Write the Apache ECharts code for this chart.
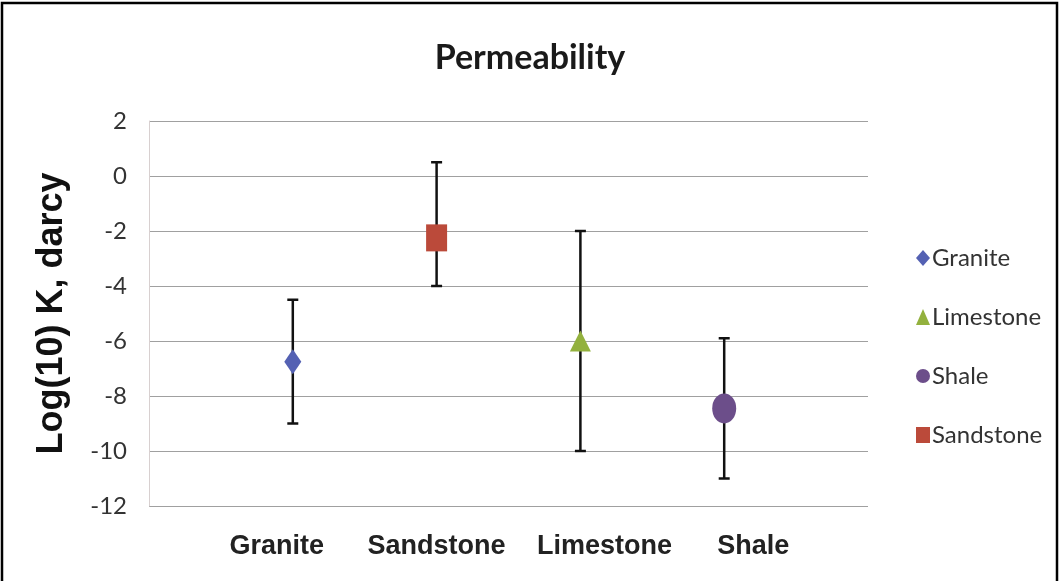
<!DOCTYPE html>
<html>
<head>
<meta charset="utf-8">
<script src="https://cdn.jsdelivr.net/npm/echarts@6/dist/echarts.min.js"></script>
<style>html,body{margin:0;padding:0;background:#fff;}#c{width:1060px;height:581px;}</style>
</head>
<body>
<div id="c"></div>
<script>
const categories = ['Granite', 'Sandstone', 'Limestone', 'Shale'];
const values = [-6.75, -2.25, -6.0, -8.45];
const lows = [-9, -4, -10, -11];
const highs = [-4.5, 0.5, -2, -5.9];
const legendOrder = ['Granite', 'Limestone', 'Shale', 'Sandstone'];
const yTicks = [2, 0, -2, -4, -6, -8, -10, -12];

const styles = {
  Granite:   { symbol: 'diamond',  size: [17, 25], color: '#5461b3' },
  Sandstone: { symbol: 'rect',     size: [21, 27], color: '#bb4a3a' },
  Limestone: { symbol: 'triangle', size: [21, 21], color: '#93b13e' },
  Shale:     { symbol: 'circle',   size: [24, 30], color: '#6c4e8a' }
};
const labelPad = { Granite: [0, 32, 0, 0], Sandstone: [0, 0, 0, 0], Limestone: [0, 0, 0, 48], Shale: [0, 0, 0, 58] };

const chart = echarts.init(document.getElementById('c'), null, { renderer: 'canvas' });

const scatterSeries = categories.map((name, i) => ({
  name: name,
  type: 'scatter',
  symbol: styles[name].symbol,
  symbolSize: styles[name].size,
  itemStyle: { color: styles[name].color, opacity: 1 },
  z: 5,
  data: [[i + 1, values[i]]]
}));

const errSeries = {
  type: 'custom',
  name: 'err',
  z: 3,
  data: categories.map((c, i) => [i + 1, lows[i], highs[i]]),
  renderItem: function (params, api) {
    const x = api.value(0);
    const lo = api.coord([x, api.value(1)]);
    const hi = api.coord([x, api.value(2)]);
    const w = 5.5;
    const st = { stroke: '#111', lineWidth: 2.5 };
    return {
      type: 'group',
      children: [
        { type: 'line', shape: { x1: lo[0], y1: lo[1], x2: hi[0], y2: hi[1] }, style: st },
        { type: 'line', shape: { x1: lo[0] - w, y1: lo[1], x2: lo[0] + w, y2: lo[1] }, style: st },
        { type: 'line', shape: { x1: hi[0] - w, y1: hi[1], x2: hi[0] + w, y2: hi[1] }, style: st }
      ]
    };
  }
};

const rich = {};
categories.forEach(n => { rich[n] = { padding: labelPad[n], fontFamily: 'Liberation Sans, Arial', fontWeight: 'bold', fontSize: 27, color: '#222' }; });

chart.setOption({
  animation: false,
  backgroundColor: '#fff',
  title: {
    text: 'Permeability',
    left: 'center',
    top: 36,
    textStyle: { fontFamily: 'Lato', fontWeight: 'bold', fontSize: 34, color: '#1a1a1a' }
  },
  legend: {
    orient: 'vertical',
    left: 911,
    top: 241,
    itemGap: 35,
    itemWidth: 14,
    itemHeight: 16,
    data: legendOrder.map(n => ({ name: n, icon: styles[n].symbol })),
    textStyle: { fontFamily: 'Lato', fontSize: 24, color: '#333', padding: [0, 0, 0, -3] }
  },
  grid: { left: 149, right: 192, top: 121, bottom: 75 },
  xAxis: {
    type: 'value',
    min: 0,
    max: 5,
    interval: 1,
    splitLine: { show: false },
    axisLine: { show: false },
    axisTick: { show: false },
    axisLabel: {
      margin: 27,
      formatter: function (v) {
        const n = categories[v - 1];
        return n ? '{' + n + '|' + n + '}' : '';
      },
      rich: rich
    }
  },
  yAxis: {
    type: 'value',
    min: -12,
    max: 2,
    interval: 2,
    name: 'Log(10) K, darcy',
    nameLocation: 'middle',
    nameGap: 79,
    nameTextStyle: { fontFamily: 'Liberation Sans, Arial', fontWeight: 'bold', fontSize: 36, color: '#111' },
    axisLine: { show: true, lineStyle: { color: '#d8d0d0', width: 1 } },
    axisTick: { show: false },
    axisLabel: { fontFamily: 'Lato', fontSize: 24, color: '#333', margin: 22,
      formatter: v => yTicks.indexOf(v) >= 0 ? String(v) : '' },
    splitLine: { lineStyle: { color: '#a0a0a0', width: 1.2 } }
  },
  graphic: [{
    type: 'rect',
    shape: { x: 2, y: 3, width: 1055, height: 600 },
    style: { fill: 'none', stroke: '#000', lineWidth: 2.5 },
    z: 100
  }],
  series: [errSeries].concat(scatterSeries)
});
</script>
</body>
</html>
